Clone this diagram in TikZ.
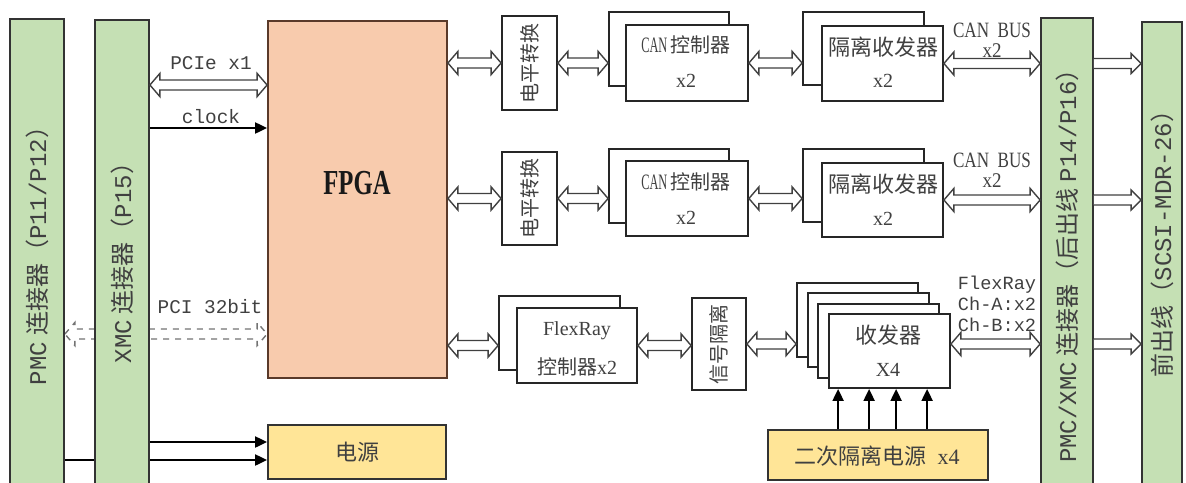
\documentclass[tikz,border=0pt]{standalone}
\usepackage{fontspec}
\setmainfont{Liberation Serif}
\setmonofont{Liberation Mono}
\newfontfamily\cjk{Noto Sans CJK SC}
\usetikzlibrary{fit,calc,arrows.meta}
\pgfdeclarelayer{background}
\pgfsetlayers{background,main}
\definecolor{conngreen}{HTML}{C5E0B4}
\definecolor{fpgafill}{HTML}{F8CBAD}
\definecolor{fpgaline}{HTML}{5A3A2A}
\definecolor{pwrfill}{HTML}{FFE597}
\definecolor{ink}{HTML}{404040}
\newcommand\bx[6]{\node[#6, fit={(#2,#3) (#4,#5)}, inner sep=0pt] (#1) {};}
\tikzset{
  conn/.style={draw=black!80, fill=conngreen, line width=0.9pt},
  plain/.style={draw=black!85, fill=white, line width=0.9pt},
  fpgabox/.style={draw=fpgaline, fill=fpgafill, line width=0.9pt},
  pwrbox/.style={draw=black!80, fill=pwrfill, line width=0.9pt},
  lbl/.style={text=ink, inner sep=0pt},
  f10/.style={font=\fontsize{10}{12}\selectfont},
  f11/.style={font=\fontsize{11}{13}\selectfont},
  f12/.style={font=\fontsize{12}{14}\selectfont},
  mono/.style={font=\ttfamily\fontsize{9.7}{11}\selectfont},
  hollow/.style={draw=black!75, fill=white, line width=0.7pt,
    to path={let \p1=(\tikztostart), \p2=(\tikztotarget) in
      (\x1,\y1) -- (\x1+5pt,\y1+5.8pt) -- (\x1+5pt,\y1+2.5pt) -- (\x2-5pt,\y1+2.5pt)
      -- (\x2-5pt,\y1+5.8pt) -- (\x2,\y1) -- (\x2-5pt,\y1-5.8pt) -- (\x2-5pt,\y1-2.5pt)
      -- (\x1+5pt,\y1-2.5pt) -- (\x1+5pt,\y1-5.8pt) -- cycle}},
  hollowone/.style={draw=black!75, fill=white, line width=0.7pt,
    to path={let \p1=(\tikztostart), \p2=(\tikztotarget) in
      (\x1,\y1+2.5pt) -- (\x2-5pt,\y1+2.5pt) -- (\x2-5pt,\y1+5pt) -- (\x2,\y1)
      -- (\x2-5pt,\y1-5pt) -- (\x2-5pt,\y1-2.5pt) -- (\x1,\y1-2.5pt)}},
  blk/.style={draw=black, line width=1pt, -{Triangle[length=6pt,width=5.5pt]}},
}
\begin{document}
\begin{tikzpicture}[x=0.5pt,y=-0.5pt]
\useasboundingbox (0,0) rectangle (1186,482);
% connectors and main blocks
\bx{pmc}{10}{19}{64}{495}{conn}
\bx{xmc}{95}{20}{149}{495}{conn}
\bx{pxmc}{1041}{18}{1093}{495}{conn}
\bx{front}{1142}{22}{1182}{495}{conn}
\bx{fpga}{268}{21}{447}{378}{fpgabox}
\bx{power}{268}{425}{446}{479}{pwrbox}
% CAN row A
\bx{lvA}{502}{16}{557}{110}{plain}
\bx{canAb}{609}{12}{729}{86}{plain}
\bx{canAf}{626}{25}{748}{101}{plain}
\bx{trAb}{803}{12}{924}{85}{plain}
\bx{trAf}{822}{26}{943}{101}{plain}
% CAN row B
\bx{lvB}{502}{152}{557}{245}{plain}
\bx{canBb}{609}{149}{729}{223}{plain}
\bx{canBf}{626}{161}{748}{236}{plain}
\bx{trBb}{803}{149}{924}{222}{plain}
\bx{trBf}{822}{163}{943}{237}{plain}
% FlexRay row
\bx{frb}{499}{296}{620}{370}{plain}
\bx{frf}{517}{308}{637}{383}{plain}
\bx{sig}{692}{298}{746}{390}{plain}
\bx{txA}{797}{283}{918}{357}{plain}
\bx{txB}{808}{293}{929}{367}{plain}
\bx{txC}{818}{304}{939}{378}{plain}
\bx{txD}{829}{314}{950}{388}{plain}
\bx{pw2}{768}{430}{988}{480}{pwrbox}

% level coordinates
\coordinate (pcieY) at (0,85);
\coordinate (clkY) at (0,128);
\coordinate (pciY) at (0,334);
\coordinate (pwA) at (0,442);
\coordinate (pwB) at (0,460);

% background connectors (pass under XMC)
\begin{pgfonlayer}{background}
\draw[hollow, dashed, draw=black!55] (pciY -| pmc.east) to (pciY -| fpga.west);
\draw[blk] (pwB -| pmc.east) -- (pwB -| power.west);
\end{pgfonlayer}

% left side connectors
\draw[hollow] (pcieY -| xmc.east) to (pcieY -| fpga.west);
\draw[blk] (clkY -| xmc.east) -- (clkY -| fpga.west);
\draw[blk] (pwA -| xmc.east) -- (pwA -| power.west);

% CAN row A
\draw[hollow] (lvA.west -| fpga.east) to (lvA.west);
\draw[hollow] (lvA.east) to (lvA.east -| canAb.west);
\draw[hollow] (canAf.east) to (canAf.east -| trAb.west);
\draw[hollow] (trAf.east) to (trAf.east -| pxmc.west);
\draw[hollowone] (trAf.east -| pxmc.east) to (trAf.east -| front.west);
% CAN row B
\draw[hollow] (lvB.west -| fpga.east) to (lvB.west);
\draw[hollow] (lvB.east) to (lvB.east -| canBb.west);
\draw[hollow] (canBf.east) to (canBf.east -| trBb.west);
\draw[hollow] (trBf.east) to (trBf.east -| pxmc.west);
\draw[hollowone] (trBf.east -| pxmc.east) to (trBf.east -| front.west);
% FlexRay row
\draw[hollow] (frf.west -| fpga.east) to (frf.west -| frb.west);
\draw[hollow] (frf.east) to (frf.east -| sig.west);
\draw[hollow] (sig.east) to (sig.east -| txA.west);
\draw[hollow] (sig.east -| txD.east) to (sig.east -| pxmc.west);
\draw[hollowone] (sig.east -| pxmc.east) to (sig.east -| front.west);
% secondary power arrows
\foreach \dx in {71,102,129,160} {
  \path ($(pw2.north west)+(\dx,0)$) coordinate (u\dx);
  \draw[blk] (u\dx) -- (u\dx |- txD.south);
}

% texts
\node[lbl, f12, rotate=90] (tPMC) at (37,250) {\texttt{PMC}\hspace{3pt}{\cjk 连接器（}\texttt{P11/P12}{\cjk ）}};
\node[lbl, f12, rotate=90] (tXMC) at (122,257) {\texttt{XMC}\hspace{3pt}{\cjk 连接器（}\texttt{P15}{\cjk ）}};
\node[lbl, f12, rotate=90] (tPX) at (1067,260) {\texttt{PMC/XMC}\hspace{3pt}{\cjk 连接器（后出线}\hspace{3pt}\texttt{P14/P16}{\cjk ）}};
\node[lbl, f12, rotate=90] (tFR) at (1162,238) {{\cjk 前出线（}\texttt{SCSI-MDR-26}{\cjk ）}};

\node[lbl, mono] (tPCIe) at (211,63) {PCIe x1};
\node[lbl, mono] (tclk) at (211,117) {clock};
\node[lbl, mono] (tpci) at (210,307) {PCI 32bit};

\node[lbl, text=black!90, font=\bfseries\fontsize{13}{15}\selectfont] (tFPGA) at (357,183) {\scalebox{0.95}[1.35]{FPGA}};
\node[lbl, f11] (tpw) at (357,452) {\cjk 电源};

\node[lbl, f10, rotate=90] (tlvA) at (lvA.center) {\cjk 电平转换};
\node[lbl, f10, rotate=90] (tlvB) at (lvB.center) {\cjk 电平转换};
\node[lbl, f10] (tcanA) at (686,45) {\scalebox{0.62}[1.1]{CAN}\,{\cjk 控制器}};
\node[lbl, f10] (tcanAx) at (686,81) {x2};
\node[lbl, f10] (tcanB) at (686,182) {\scalebox{0.62}[1.1]{CAN}\,{\cjk 控制器}};
\node[lbl, f10] (tcanBx) at (686,218) {x2};
\node[lbl, f11] (ttrA) at (883,47) {\cjk 隔离收发器};
\node[lbl, f10] (ttrAx) at (883,81) {x2};
\node[lbl, f11] (ttrB) at (883,184) {\cjk 隔离收发器};
\node[lbl, f10] (ttrBx) at (883,219) {x2};

\node[lbl, font=\fontsize{9.5}{10}\selectfont, align=center] (tbusA) at (992,40) {\scalebox{0.9}[1.15]{CAN\ \ BUS}\\[0pt]\scalebox{1}[1.1]{x2}};
\node[lbl, font=\fontsize{9.5}{10}\selectfont, align=center] (tbusB) at (992,170) {\scalebox{0.9}[1.15]{CAN\ \ BUS}\\[0pt]\scalebox{1}[1.1]{x2}};
\node[lbl, font=\ttfamily\fontsize{9.3}{10.5}\selectfont, align=center] (tflex) at (997,304) {FlexRay\\Ch-A:x2\\Ch-B:x2};

\node[lbl, f10] (tfr1) at (577,331) {FlexRay};
\node[lbl, f10] (tfr2) at (577,367) {{\cjk 控制器}x2};
\node[lbl, f10, rotate=90] (tsig) at (sig.center) {\cjk 信号隔离};
\node[lbl, f11] (ttx1) at (888,335) {\cjk 收发器};
\node[lbl, f10] (ttx2) at (888,370) {X4};
\node[lbl, f11] (tpw2) at (877,456) {{\cjk 二次隔离电源}\ \ x4};
\end{tikzpicture}
\end{document}
